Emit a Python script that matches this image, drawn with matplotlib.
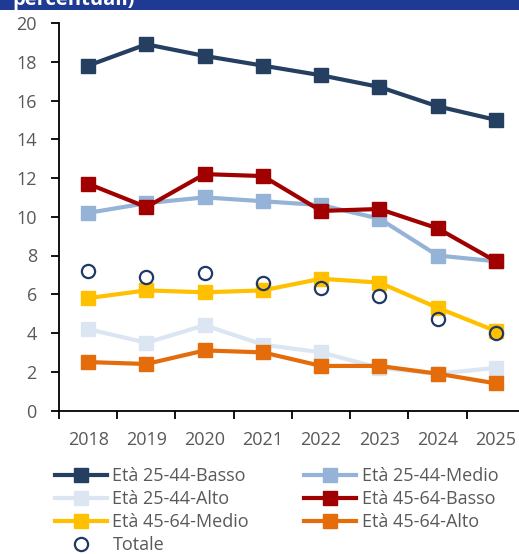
import matplotlib
matplotlib.use("Agg")
import matplotlib.pyplot as plt
from matplotlib.patches import Rectangle

years = ["2018", "2019", "2020", "2021", "2022", "2023", "2024", "2025"]

eta_25_44_basso = [17.8, 18.9, 18.3, 17.8, 17.3, 16.7, 15.7, 15.0]
eta_25_44_medio = [10.2, 10.7, 11.0, 10.8, 10.6, 9.9, 8.0, 7.7]
eta_25_44_alto = [4.2, 3.5, 4.4, 3.4, 3.0, 2.2, 1.9, 2.2]
eta_45_64_basso = [11.7, 10.5, 12.2, 12.1, 10.3, 10.4, 9.4, 7.7]
eta_45_64_medio = [5.8, 6.2, 6.1, 6.2, 6.8, 6.6, 5.3, 4.1]
eta_45_64_alto = [2.5, 2.4, 3.1, 3.0, 2.3, 2.3, 1.9, 1.4]
totale = [7.2, 6.9, 7.1, 6.6, 6.3, 5.9, 4.7, 4.0]

series = [
    ("Età 25-44-Basso", eta_25_44_basso, "#243F60"),
    ("Età 25-44-Medio", eta_25_44_medio, "#95B3D7"),
    ("Età 25-44-Alto", eta_25_44_alto, "#DCE6F2"),
    ("Età 45-64-Basso", eta_45_64_basso, "#A00000"),
    ("Età 45-64-Medio", eta_45_64_medio, "#FFC000"),
    ("Età 45-64-Alto", eta_45_64_alto, "#E46C0A"),
]

plt.rcParams["font.family"] = ["Open Sans", "DejaVu Sans"]
text_color = "#595959"

W, H = 519, 554
fig = plt.figure(figsize=(W / 100, H / 100), dpi=100)

# header band with the tail of the title showing at the top edge
fig.patches.append(Rectangle((0, 1 - 10 / H), 1, 10 / H, transform=fig.transFigure,
                             facecolor="#1F3A93", edgecolor="none", zorder=0))
fig.text(12 / W, 1 - 5 / H, "percentuali)", color="white", fontsize=14.5,
         fontweight="bold", va="baseline", ha="left")

ax = fig.add_axes([59 / W, 1 - 410.5 / H, 466 / W, (410.5 - 23) / H])

x = list(range(len(years)))
handles = {}
for i, (name, vals, col) in enumerate(series):
    h, = ax.plot(x, vals, color=col, lw=3, marker="s", markersize=10,
                 markerfacecolor=col, markeredgecolor=col, label=name,
                 zorder=2 + i * 0.1, clip_on=False)
    handles[name] = h
ht, = ax.plot(x, totale, linestyle="none", marker="o", markersize=9.5,
              markerfacecolor="none", markeredgecolor="#1F3864",
              markeredgewidth=1.6, label="Totale", zorder=5, clip_on=False)
handles["Totale"] = ht

ax.set_ylim(0, 20)
ax.set_yticks(range(0, 21, 2))
ax.set_xlim(-0.5, len(years) - 0.5)
ax.set_xticks([i - 0.5 for i in range(len(years) + 1)])
ax.set_xticklabels([])
ax.set_xticks(x, minor=True)
ax.set_xticklabels(years, minor=True)
ax.tick_params(axis="x", which="major", direction="out", length=6, width=1.3, color="black")
ax.tick_params(axis="x", which="minor", length=0, pad=15, labelsize=13, labelcolor=text_color)
ax.tick_params(axis="y", direction="out", length=6, width=1.3, color="black",
               labelsize=13, labelcolor=text_color, pad=10)

for s in ["top", "right"]:
    ax.spines[s].set_visible(False)
for s in ["left", "bottom"]:
    ax.spines[s].set_linewidth(1.3)
    ax.spines[s].set_color("black")

order = ["Età 25-44-Basso", "Età 25-44-Alto", "Età 45-64-Medio", "Totale",
         "Età 25-44-Medio", "Età 45-64-Basso", "Età 45-64-Alto"]
leg = fig.legend([handles[n] for n in order], order, ncol=2,
                 loc="upper left", bbox_to_anchor=(55 / W, 1 - 467 / H),
                 frameon=False, fontsize=13, handlelength=2.9,
                 handletextpad=0.28, columnspacing=3.05, labelspacing=0.28,
                 borderpad=0, borderaxespad=0)
for t in leg.get_texts():
    t.set_color(text_color)

fig.savefig("out.png", dpi=100)
